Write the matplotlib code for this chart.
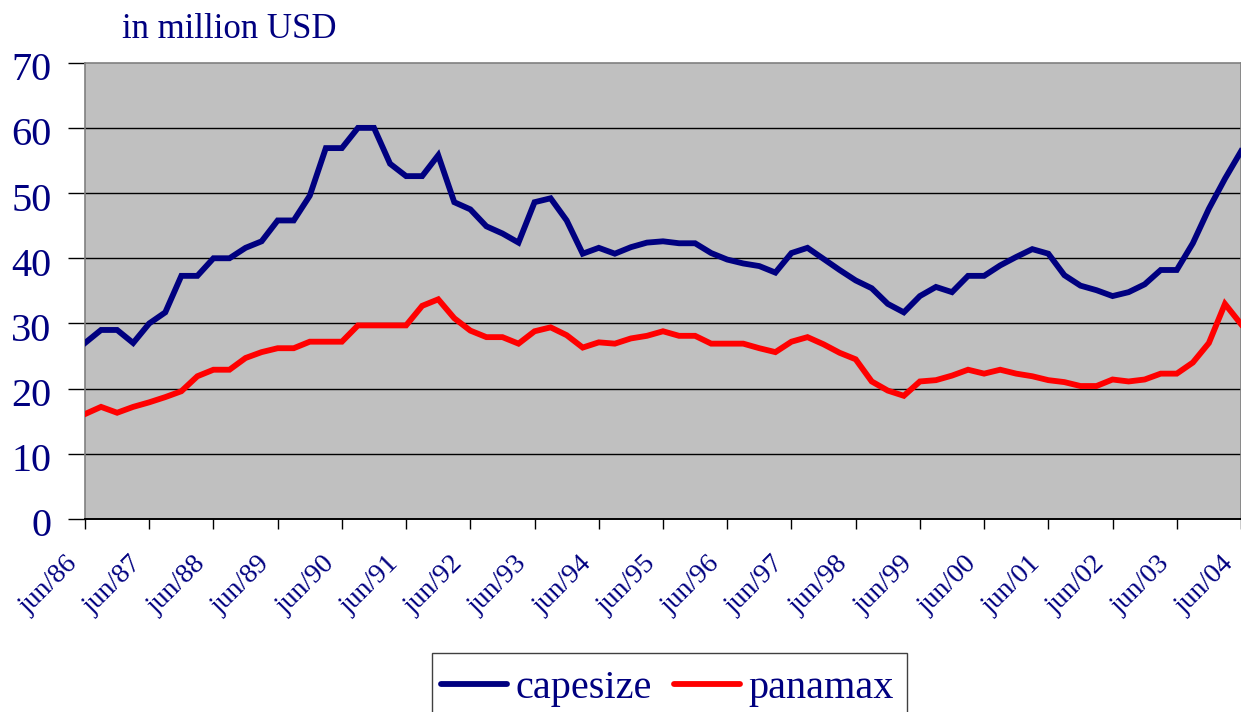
import matplotlib
matplotlib.use("Agg")
import matplotlib.pyplot as plt
import matplotlib.transforms as mtransforms
from matplotlib.patches import Rectangle
import numpy as np

# =====================================================
# DATA (quarterly, jun/86 - jun/04, million USD)
# =====================================================

capesize = [
    27.0, 29.0, 29.0, 27.0, 30.0, 31.7, 37.3, 37.3, 40.0, 40.0,
    41.6, 42.6, 45.8, 45.8, 49.6, 56.9, 56.9, 60.0, 60.0, 54.5,
    52.6, 52.6, 55.8, 48.6, 47.5, 44.9, 43.8, 42.4, 48.6, 49.2,
    45.8, 40.7, 41.6, 40.7, 41.7, 42.4, 42.6, 42.3, 42.3, 40.8,
    39.8, 39.2, 38.8, 37.8, 40.8, 41.6, 39.9, 38.2, 36.6, 35.4,
    33.0, 31.7, 34.2, 35.6, 34.8, 37.3, 37.3, 38.9, 40.2, 41.4,
    40.7, 37.4, 35.8, 35.1, 34.2, 34.8, 36.0, 38.2, 38.2, 42.3,
    47.6, 52.2, 56.4,
]

panamax = [
    16.1, 17.2, 16.3, 17.2, 17.9, 18.7, 19.6, 21.9, 22.9, 22.9,
    24.7, 25.6, 26.2, 26.2, 27.2, 27.2, 27.2, 29.7, 29.7, 29.7,
    29.7, 32.7, 33.7, 30.8, 28.9, 27.9, 27.9, 26.9, 28.8, 29.4,
    28.2, 26.3, 27.1, 26.9, 27.7, 28.1, 28.8, 28.1, 28.1, 26.9,
    26.9, 26.9, 26.2, 25.6, 27.2, 27.9, 26.8, 25.5, 24.5, 21.1,
    19.7, 18.9, 21.1, 21.3, 22.0, 22.9, 22.3, 22.9, 22.3, 21.9,
    21.3, 21.0, 20.4, 20.4, 21.4, 21.1, 21.4, 22.3, 22.3, 24.0,
    27.0, 33.0, 29.9,
]

year_labels = [
    "jun/86", "jun/87", "jun/88", "jun/89", "jun/90", "jun/91",
    "jun/92", "jun/93", "jun/94", "jun/95", "jun/96", "jun/97",
    "jun/98", "jun/99", "jun/00", "jun/01", "jun/02", "jun/03",
    "jun/04",
]

y_ticks = [0, 10, 20, 30, 40, 50, 60, 70]

NAVY = "#000080"
RED = "#FF0000"

plt.rcParams['font.family'] = ['Liberation Serif', 'DejaVu Serif']

# =====================================================
# FIGURE
# =====================================================

fig = plt.figure(figsize=(12.41, 7.12), dpi=100)

ax = fig.add_axes([85 / 1241, 1 - 519 / 712, 1 - 85 / 1241, (519 - 62.7) / 712])

ax.set_facecolor("#C0C0C0")

x = np.arange(len(capesize))

ax.plot(x, capesize, color=NAVY, linewidth=4.2, label="capesize",
        solid_joinstyle="miter", zorder=3)

ax.plot(x, panamax, color=RED, linewidth=4.2, label="panamax",
        solid_joinstyle="miter", zorder=3)

ax.set_xlim(0, len(capesize) - 1)
ax.set_ylim(0, 70)

# gridlines
for v in y_ticks[1:-1]:
    ax.axhline(v, color="black", linewidth=1.0, zorder=1)

# spines
for side in ["top", "right", "left"]:
    ax.spines[side].set_color("#808080")
    ax.spines[side].set_linewidth(1.2)
ax.spines["bottom"].set_color("black")
ax.spines["bottom"].set_linewidth(1.4)

# y axis
ax.set_yticks(y_ticks)
ax.set_yticklabels([str(v) for v in y_ticks])
ax.tick_params(axis="y", direction="out", length=12, width=1.0,
               color="black", pad=12, labelsize=29, labelcolor=NAVY)

y_off = mtransforms.ScaledTranslation(0, -2.5 / 72, fig.dpi_scale_trans)
for lbl in ax.get_yticklabels():
    lbl.set_transform(lbl.get_transform() + y_off)

# x axis
ax.set_xticks(x[::4])
ax.set_xticklabels(year_labels, rotation=45, ha="right", va="top",
                   rotation_mode="anchor")
ax.tick_params(axis="x", direction="out", length=7, width=1.0,
               color="black", pad=16.3, labelsize=20, labelcolor=NAVY)

x_off = mtransforms.ScaledTranslation(-20 / 100, 0, fig.dpi_scale_trans)
for lbl in ax.get_xticklabels():
    lbl.set_transform(lbl.get_transform() + x_off)

# unit label
fig.text(122 / 1241, 1 - 38.5 / 712, "in million USD", color=NAVY,
         fontsize=25, ha="left", va="baseline")

# legend (frame drawn separately, runs off the bottom edge)
leg = fig.legend(
    loc="center left",
    bbox_to_anchor=(441 / 1241, 1 - 688 / 712),
    ncol=2,
    fontsize=29,
    frameon=False,
    handlelength=1.65,
    handletextpad=0.2,
    columnspacing=0.55,
    borderpad=0.0,
    borderaxespad=0.0,
)
for t in leg.get_texts():
    t.set_color(NAVY)
for h in leg.get_lines():
    h.set_linewidth(4.2)
    h.set_solid_capstyle("round")

fig.patches.append(Rectangle(
    (432 / 1241, -0.05), (907 - 432) / 1241, 0.05 + 1 - 653 / 712,
    transform=fig.transFigure, fill=False,
    edgecolor="#404040", linewidth=1.0))

fig.savefig("out.png", dpi=100)
